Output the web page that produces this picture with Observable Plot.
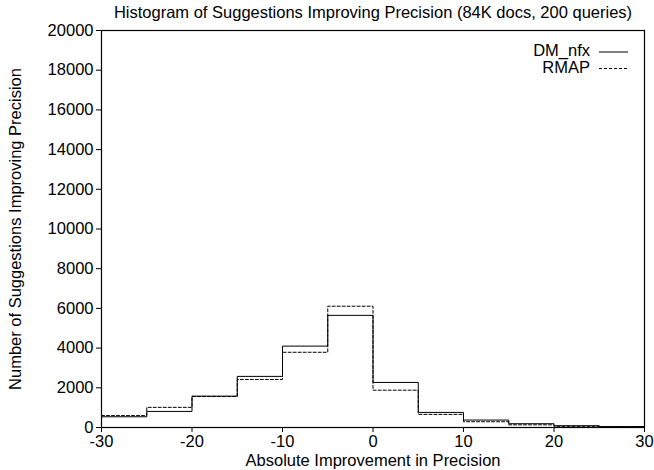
<!DOCTYPE html>
<html>
<head>
<meta charset="utf-8">
<script src="https://cdn.jsdelivr.net/npm/d3@7"></script>
<script src="https://cdn.jsdelivr.net/npm/@observablehq/plot@0.6"></script>
<style>
  html, body { margin: 0; padding: 0; background: #fff; }
  #wrap { position: relative; width: 654px; height: 470px; font-family: "Liberation Sans", Arial, sans-serif; }
  #title { position: absolute; left: 101px; width: 544px; top: 2px; text-align: center; font-size: 16.5px; line-height: 20px; color: #000; white-space: nowrap; }
  #chart { position: absolute; left: 0; top: 22px; }
  #legend { position: absolute; left: 519px; top: 40px; }
</style>
</head>
<body>
<div id="wrap">
  <div id="title">Histogram of Suggestions Improving Precision (84K docs, 200 queries)</div>
  <div id="chart"></div>
  <svg id="legend" width="120" height="42"></svg>
</div>
<script>
const binStarts = [-30, -25, -20, -15, -10, -5, 0, 5, 10, 15, 20, 25];
const binWidth = 5;
const dmNfx = [540, 810, 1580, 2575, 4100, 5650, 2270, 760, 375, 190, 90, 45];
const rmap  = [600, 1015, 1560, 2420, 3790, 6110, 1880, 660, 290, 135, 60, 45];
const seriesNames = ["DM_nfx", "RMAP"];
const xTicks = [-30, -20, -10, 0, 10, 20, 30];
const yTicks = [0, 2000, 4000, 6000, 8000, 10000, 12000, 14000, 16000, 18000, 20000];

function steps(vals) {
  const pts = binStarts.map((x, i) => ({x, y: vals[i]}));
  pts.push({x: binStarts[binStarts.length - 1] + binWidth, y: vals[vals.length - 1]});
  return pts;
}
const dmData = steps(dmNfx);
const rmData = steps(rmap);

const plot = Plot.plot({
  width: 654,
  height: 448,
  marginLeft: 101,
  marginRight: 10,
  marginTop: 8,
  marginBottom: 43,
  style: { fontFamily: "Liberation Sans, Arial, sans-serif", fontSize: "16.5px", color: "#000", background: "#fff" },
  x: { domain: [-30, 30], ticks: xTicks, tickSize: 5, tickPadding: 3, tickFormat: d => String(d), label: "Absolute Improvement in Precision", labelAnchor: "center", labelArrow: "none", labelOffset: 38 },
  y: { domain: [0, 20000], ticks: yTicks, tickSize: 5, tickPadding: 3, label: "Number of Suggestions Improving Precision", labelAnchor: "center", labelArrow: "none", labelOffset: 92, tickFormat: d => String(d) },
  marks: [
    Plot.frame({stroke: "#000", strokeWidth: 1.2}),
    Plot.line(rmData, {x: "x", y: "y", curve: "step-after", stroke: "#000", strokeWidth: 1, strokeDasharray: "3,2"}),
    Plot.line(dmData, {x: "x", y: "y", curve: "step-after", stroke: "#000", strokeWidth: 1})
  ]
});
document.getElementById("chart").appendChild(plot);

const lg = d3.select("#legend");
seriesNames.forEach((name, i) => {
  const y = 12 + i * 16.5;
  lg.append("text").attr("x", 71).attr("y", y).attr("text-anchor", "end").attr("dominant-baseline", "middle")
    .attr("font-family", "Liberation Sans, Arial, sans-serif").attr("font-size", 16.5).text(name);
  lg.append("line").attr("x1", 80).attr("x2", 109).attr("y1", y).attr("y2", y)
    .attr("stroke", "#000").attr("stroke-width", 1).attr("stroke-dasharray", i === 0 ? null : "3,2");
});
</script>
</body>
</html>
